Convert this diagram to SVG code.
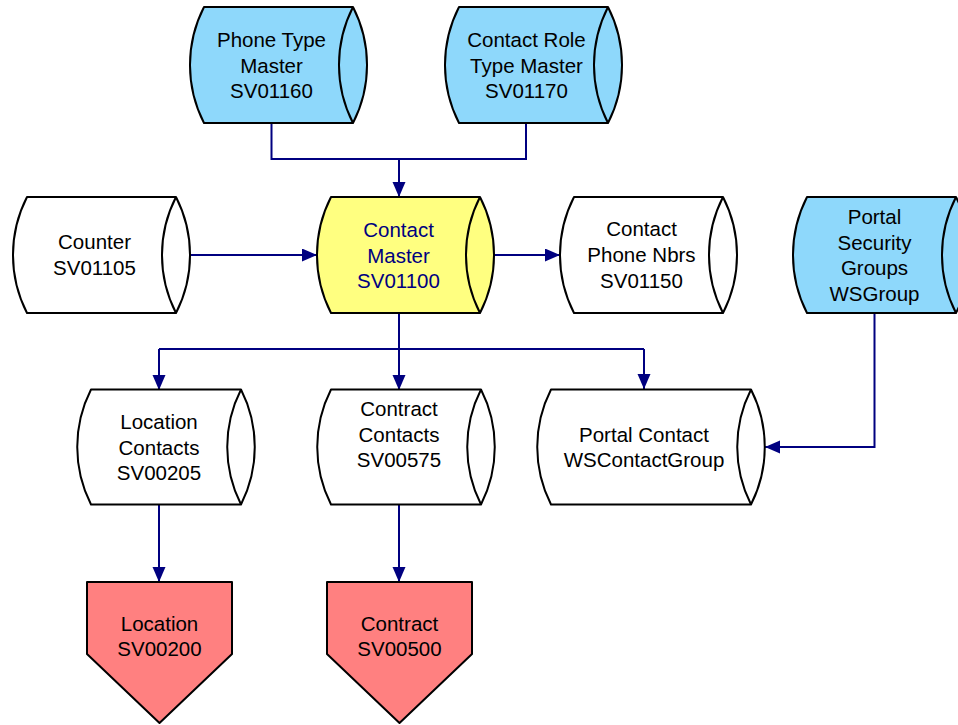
<svg xmlns="http://www.w3.org/2000/svg" width="958" height="725" viewBox="0 0 958 725">
<style>
.b{stroke:#000;stroke-width:2;stroke-linejoin:round}
.blue{fill:#8ED8FB}
.yel{fill:#FFFF80}
.wht{fill:#fff}
.pink{fill:#FF8080}
.l{fill:none;stroke:#000;stroke-width:2}
text{font-family:"Liberation Sans",Arial,sans-serif;font-size:20.5px;text-anchor:middle;fill:#000}
.nv{fill:#000080}
.c{fill:none;stroke:#000080;stroke-width:2}
</style>
<defs>
<marker id="ah" markerUnits="userSpaceOnUse" markerWidth="16" markerHeight="14" refX="15" refY="6.5" orient="auto">
<path d="M0,0 L15,6.5 L0,13 z" fill="#000080"/>
</marker>
</defs>
<rect width="958" height="725" fill="#fff"/>
<g id="connectors">
<path class="c" d="M271.5,123 V159 H526 V123"/>
<path class="c" d="M399,159 V197" marker-end="url(#ah)"/>
<path class="c" d="M190,255 H317" marker-end="url(#ah)"/>
<path class="c" d="M495,255 H560" marker-end="url(#ah)"/>
<path class="c" d="M399,313 V349"/>
<path class="c" d="M159,349 H644"/>
<path class="c" d="M159,349 V390" marker-end="url(#ah)"/>
<path class="c" d="M399,349 V390" marker-end="url(#ah)"/>
<path class="c" d="M644,349 V389" marker-end="url(#ah)"/>
<path class="c" d="M874.5,313 V447 H765" marker-end="url(#ah)"/>
<path class="c" d="M159,505 V582" marker-end="url(#ah)"/>
<path class="c" d="M399,505 V582" marker-end="url(#ah)"/>
</g>
<g id="phone-type-master">
<path class="b blue" d="M204,7 H353 A127,127 0 0 1 353,123 H204 A127,127 0 0 1 204,7 Z"/>
<path class="l" d="M353,7 A127,127 0 0 0 353,123"/>
<text x="271.5" y="47">Phone Type</text>
<text x="271.5" y="72.5">Master</text>
<text x="271.5" y="98">SV01160</text>
</g>
<g id="contact-role-type-master">
<path class="b blue" d="M459,7 H608 A127,127 0 0 1 608,123 H459 A127,127 0 0 1 459,7 Z"/>
<path class="l" d="M608,7 A127,127 0 0 0 608,123"/>
<text x="526.5" y="47">Contact Role</text>
<text x="526.5" y="72.5">Type Master</text>
<text x="526.5" y="98">SV01170</text>
</g>
<g id="counter">
<path class="b wht" d="M27,197 H176 A127,127 0 0 1 176,313 H27 A127,127 0 0 1 27,197 Z"/>
<path class="l" d="M176,197 A127,127 0 0 0 176,313"/>
<text x="94.5" y="249">Counter</text>
<text x="94.5" y="275">SV01105</text>
</g>
<g id="contact-master">
<path class="b yel" d="M331,197 H480 A127,127 0 0 1 480,313 H331 A127,127 0 0 1 331,197 Z"/>
<path class="l" d="M480,197 A127,127 0 0 0 480,313"/>
<text class="nv" x="398.5" y="237">Contact</text>
<text class="nv" x="398.5" y="262.5">Master</text>
<text class="nv" x="398.5" y="288">SV01100</text>
</g>
<g id="contact-phone-nbrs">
<path class="b wht" d="M574,197 H723 A127,127 0 0 1 723,313 H574 A127,127 0 0 1 574,197 Z"/>
<path class="l" d="M723,197 A127,127 0 0 0 723,313"/>
<text x="641.5" y="236">Contact</text>
<text x="641.5" y="262">Phone Nbrs</text>
<text x="641.5" y="287.5">SV01150</text>
</g>
<g id="portal-security-groups">
<path class="b blue" d="M807,197 H956 A127,127 0 0 1 956,313 H807 A127,127 0 0 1 807,197 Z"/>
<path class="l" d="M956,197 A127,127 0 0 0 956,313"/>
<text x="874.5" y="224">Portal</text>
<text x="874.5" y="249.5">Security</text>
<text x="874.5" y="275">Groups</text>
<text x="874.5" y="300.5">WSGroup</text>
</g>
<g id="location-contacts">
<path class="b wht" d="M91,389.5 H241 A127,127 0 0 1 241,504.5 H91 A127,127 0 0 1 91,389.5 Z"/>
<path class="l" d="M241,389.5 A127,127 0 0 0 241,504.5"/>
<text x="159" y="429">Location</text>
<text x="159" y="454.5">Contacts</text>
<text x="159" y="480">SV00205</text>
</g>
<g id="contract-contacts">
<path class="b wht" d="M331,389.5 H481 A127,127 0 0 1 481,504.5 H331 A127,127 0 0 1 331,389.5 Z"/>
<path class="l" d="M481,389.5 A127,127 0 0 0 481,504.5"/>
<text x="399" y="416">Contract</text>
<text x="399" y="441.5">Contacts</text>
<text x="399" y="467">SV00575</text>
</g>
<g id="portal-contact">
<path class="b wht" d="M551,389.5 H751 A127,127 0 0 1 751,504.5 H551 A127,127 0 0 1 551,389.5 Z"/>
<path class="l" d="M751,389.5 A127,127 0 0 0 751,504.5"/>
<text x="644" y="441.5">Portal Contact</text>
<text x="644" y="467">WSContactGroup</text>
</g>
<g id="location">
<path class="b pink" d="M87,582 H232 V654 L159.5,723 L87,654 Z"/>
<text x="159.5" y="631">Location</text>
<text x="159.5" y="656">SV00200</text>
</g>
<g id="contract">
<path class="b pink" d="M327,582 H472 V654 L399.5,723 L327,654 Z"/>
<text x="399.5" y="631">Contract</text>
<text x="399.5" y="656">SV00500</text>
</g>
</svg>
